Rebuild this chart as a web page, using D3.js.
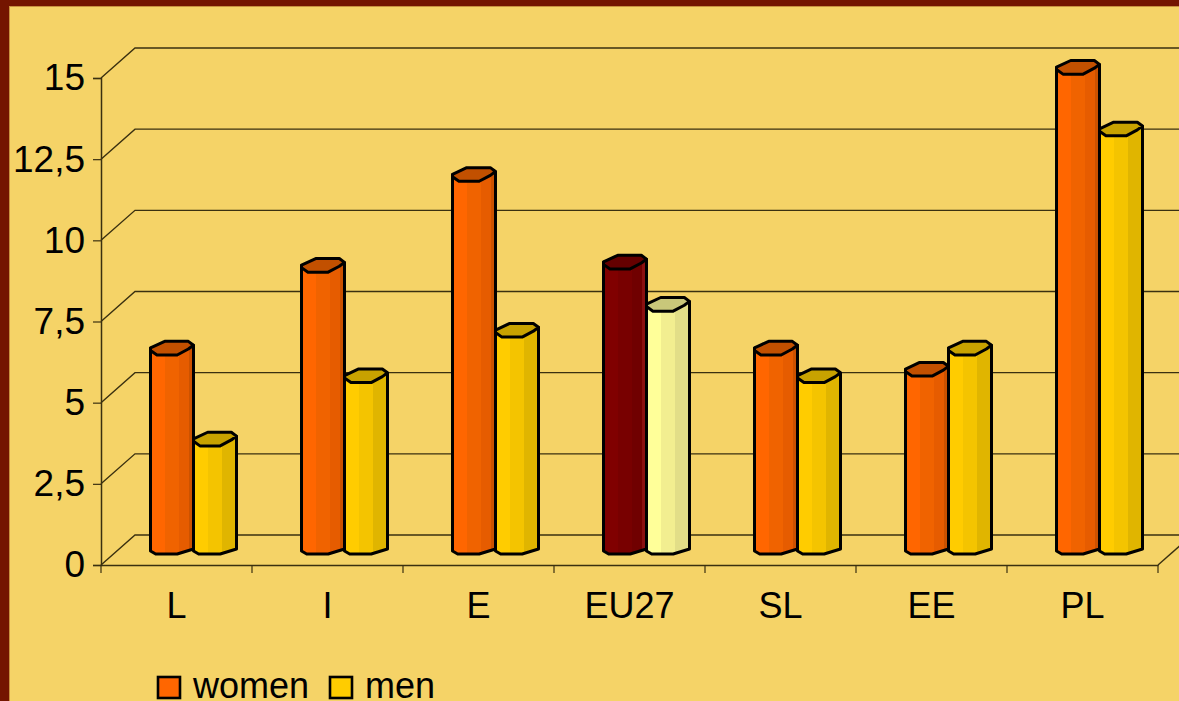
<!DOCTYPE html>
<html>
  <head>
    <title>women and men</title>
    <style>
      html, body { margin: 0; padding: 0; background: #f5d367; overflow: hidden; }
      text { font-family: "Liberation Sans", Arial, sans-serif; font-size: 36px; fill: #000; }
    </style>
  </head>
  <body>
    <script src="https://d3js.org/d3.v7.min.js"></script>
    <script>
      var w = 1179;
      var h = 701;

      var categories = ['L', 'I', 'E', 'EU27', 'SL', 'EE', 'PL'];
      var seriesNames = ['women', 'men'];
      var women = [6.15, 8.7, 11.5, 8.8, 6.15, 5.5, 14.8];
      var men = [3.35, 5.3, 6.7, 7.5, 5.3, 6.15, 12.9];
      var yTicks = [0, 2.5, 5, 7.5, 10, 12.5, 15];
      var highlight = 'EU27';

      // 3d look of the plot: how far the back wall sits from the front axes
      var depthX = 34, depthY = -30;
      var barDx = 17, barDy = -17;

      var palettes = {
        women: { strips: ['#ff6600', '#f06300', '#e65c00', '#cc5200'], cap: '#c25000' },
        men: { strips: ['#ffcc00', '#f4c400', '#e0b500', '#e0b500'], cap: '#c8a200' },
        womenHi: { strips: ['#800000', '#780000', '#700000', '#8a1010'], cap: '#650000' },
        menHi: { strips: ['#ffff99', '#f2ee90', '#e2de88', '#e2de88'], cap: '#c9c77a' }
      };

      var x = d3.scaleBand().domain(categories).range([101, 1158]);
      var y = d3.scaleLinear().domain([0, 15]).range([565, 78]);
      var inner = d3.scaleBand().domain(seriesNames).range([x.bandwidth() / 2 - 43, x.bandwidth() / 2 + 43]);

      var svg = d3.select('body').append('svg')
        .attr('width', w).attr('height', h)
        .style('display', 'block');

      svg.append('rect').attr('width', w).attr('height', h).attr('fill', '#f5d367');
      // frame of the slide
      svg.append('rect').attr('width', w).attr('height', 6).attr('fill', '#741500');
      svg.append('rect').attr('width', 9).attr('height', h).attr('fill', '#741500');
      svg.append('line').attr('x1', 9.5).attr('x2', 9.5).attr('y1', 6).attr('y2', h)
        .attr('stroke', '#c8913f').attr('stroke-width', 1);
      svg.append('line').attr('x1', 9).attr('x2', w).attr('y1', 6.5).attr('y2', 6.5)
        .attr('stroke', '#c8913f').attr('stroke-width', 1);

      var defs = svg.append('defs');
      Object.keys(palettes).forEach(function(key) {
        var g = defs.append('linearGradient').attr('id', 'fill-' + key);
        var edges = [0, 0.34, 0.66, 0.9, 1];
        palettes[key].strips.forEach(function(c, i) {
          g.append('stop').attr('offset', edges[i]).attr('stop-color', c);
          g.append('stop').attr('offset', edges[i + 1]).attr('stop-color', c);
        });
      });

      // walls: side wall diagonal + back wall line for every tick
      var grid = svg.append('g');
      grid.selectAll('path').data(yTicks).enter().append('path')
        .attr('fill', 'none')
        .attr('stroke', '#3a3010')
        .attr('stroke-width', 1.4)
        .attr('d', function(d) {
          return 'M101,' + y(d) + 'L' + (101 + depthX) + ',' + (y(d) + depthY) + 'L' + w + ',' + (y(d) + depthY);
        });
      svg.append('line')
        .attr('x1', x.range()[1]).attr('y1', y(0))
        .attr('x2', x.range()[1] + depthX).attr('y2', y(0) + depthY)
        .attr('stroke', '#3a3010').attr('stroke-width', 1.4);

      var yAxis = d3.axisLeft(y)
        .tickValues(yTicks)
        .tickSize(8)
        .tickPadding(8)
        .tickFormat(function(d) { return String(d).replace('.', ','); });
      var yG = svg.append('g').attr('transform', 'translate(101,0)').call(yAxis);

      var xAxis = d3.axisBottom(x).tickSize(0).tickPadding(27);
      var xG = svg.append('g').attr('transform', 'translate(0,565)').call(xAxis);
      // the ticks of this chart sit between the categories
      xG.selectAll('.boundary')
        .data(categories.map(function(c) { return x(c); }).concat([x.range()[1]]))
        .enter().append('line')
        .attr('class', 'boundary')
        .attr('x1', function(d) { return d; })
        .attr('x2', function(d) { return d; })
        .attr('y1', 0).attr('y2', 8)
        .attr('stroke', '#3a3010').attr('stroke-width', 1.2);

      svg.selectAll('.domain').attr('stroke', '#3a3010').attr('stroke-width', 1.5);
      yG.selectAll('.tick line').attr('stroke', '#3a3010').attr('stroke-width', 1.2);
      yG.selectAll('text').style('font-size', '37px').style('font-family', '"Liberation Sans", Arial, sans-serif');
      xG.selectAll('text').style('font-size', '36px').style('font-family', '"Liberation Sans", Arial, sans-serif');

      function lift(x0, bw, yc, pts) {
        return pts.map(function(p) { return [x0 + p[0] * bw, yc + p[1] * 7]; });
      }
      var capShape = [[0, -0.05], [0.33, -1], [0.88, -1], [1, -0.45], [0.88, 0.1], [0.62, 0.95], [0.15, 0.95], [0, 0.3]];

      var rows = [];
      categories.forEach(function(c, i) {
        rows.push({ cat: c, name: 'women', value: women[i] });
        rows.push({ cat: c, name: 'men', value: men[i] });
      });

      var bars = svg.append('g').selectAll('g').data(rows).enter().append('g')
        .attr('stroke', '#000')
        .attr('stroke-width', 3)
        .attr('stroke-linejoin', 'round');

      function paletteKey(d) {
        return d.cat == highlight ? d.name + 'Hi' : d.name;
      }

      bars.append('path')
        .attr('fill', function(d) { return 'url(#fill-' + paletteKey(d) + ')'; })
        .attr('d', function(d) {
          var x0 = x(d.cat) + inner(d.name) + barDx;
          var bw = inner.bandwidth();
          var yc = y(d.value) + barDy;
          var yb = y(0) + barDy;
          return 'M' + x0 + ',' + yc +
            'L' + x0 + ',' + (yb + 3) +
            'L' + (x0 + bw * 0.12) + ',' + (yb + 6) +
            'L' + (x0 + bw * 0.62) + ',' + (yb + 6) +
            'L' + (x0 + bw) + ',' + (yb + 1) +
            'L' + (x0 + bw) + ',' + (yc - 3) + 'Z';
        });

      bars.append('path')
        .attr('fill', function(d) { return palettes[paletteKey(d)].cap; })
        .attr('d', function(d) {
          var pts = lift(x(d.cat) + inner(d.name) + barDx, inner.bandwidth(), y(d.value) + barDy, capShape);
          return d3.line()(pts) + 'Z';
        });

      // legend
      var legendX = d3.scaleOrdinal().domain(seriesNames).range([157, 329]);
      var legend = svg.append('g').selectAll('g').data(seriesNames).enter().append('g')
        .attr('transform', function(d) { return 'translate(' + legendX(d) + ',676)'; });
      legend.append('rect')
        .attr('x', 1).attr('y', 1).attr('width', 22).attr('height', 21)
        .attr('fill', function(d) { return palettes[d].strips[0]; })
        .attr('stroke', '#000').attr('stroke-width', 2.6);
      legend.append('text')
        .attr('x', 36).attr('y', 22)
        .text(function(d) { return d; });
    </script>
  </body>
</html>
